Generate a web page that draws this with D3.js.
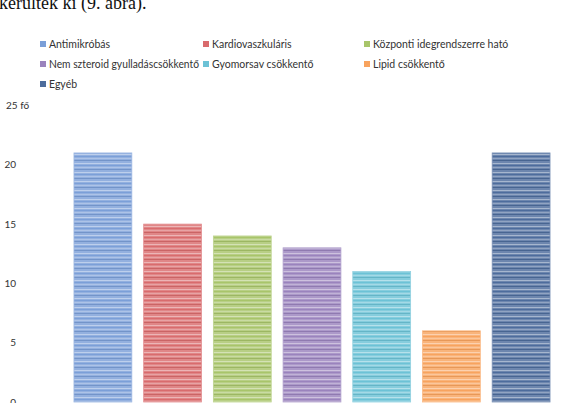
<!DOCTYPE html>
<html><head><meta charset="utf-8">
<script src="https://cdn.jsdelivr.net/npm/d3@7"></script>
<style>body{margin:0;background:#fff;overflow:hidden}svg{display:block}</style>
</head><body><svg id="c" width="567" height="403"></svg>
<script>
const categories = ["Antimikróbás","Kardiovaszkuláris","Központi idegrendszerre ható","Nem szteroid gyulladáscsökkentő","Gyomorsav csökkentő","Lipid csökkentő","Egyéb"];
const values = [21,15,14,13,11,6,21];
const colors = ["#7b9fd8","#d96b6d","#a8c56a","#9a83bd","#6cc2d6","#f8a35e","#4d6c9c"];
const tickValues = [0,5,10,15,20,25];
const unit = "fő";

const svg = d3.select("#c");
const y = d3.scaleLinear().domain([0,25]).range([402,105.5]);
const x = d3.scaleBand().domain(categories).range([67,557]).paddingInner(0.17).paddingOuter(0.1);

// header fragment text
svg.append("text").attr("x",-1).attr("y",9).attr("font-family","'Liberation Serif','Times New Roman',serif")
  .attr("font-size",18).attr("fill","#111").text("kerültek ki (9. ábra).");

// stripe patterns
const defs = svg.append("defs");
categories.forEach((c,i)=>{
  const base = d3.color(colors[i]);
  const light = d3.interpolateRgb(colors[i],"#fff");
  const p = defs.append("pattern").attr("id","p"+i).attr("patternUnits","userSpaceOnUse")
    .attr("width",10).attr("height",9);
  p.append("rect").attr("width",10).attr("height",9).attr("fill",light(0.18));
  p.append("rect").attr("y",1).attr("width",10).attr("height",1).attr("fill",light(0.5));
  p.append("rect").attr("y",3).attr("width",10).attr("height",1).attr("fill",base.formatHex());
  p.append("rect").attr("y",5).attr("width",10).attr("height",1).attr("fill",light(0.38));
  p.append("rect").attr("y",7).attr("width",10).attr("height",1).attr("fill",base.darker(0.2).formatHex());
});

// y axis labels
const ax = svg.append("g").attr("font-family","Lato,'Open Sans',sans-serif").attr("font-size",10).attr("fill","#333");
ax.selectAll("text").data(tickValues).join("text")
  .attr("x",d=> d===25 ? 6 : 16)
  .attr("text-anchor",d=> d===25 ? "start" : "end")
  .attr("y",d=>y(d)).attr("dy","0.35em")
  .text(d=> d===25 ? d+" "+unit : d);

// bars
svg.append("g").selectAll("rect").data(categories).join("rect")
  .attr("x",d=>x(d)).attr("width",x.bandwidth())
  .attr("y",(d,i)=>y(values[i])).attr("height",(d,i)=>y(0)-y(values[i]))
  .attr("fill",(d,i)=>"url(#p"+i+")")
  .attr("stroke",(d,i)=>d3.interpolateRgb(colors[i],"#fff")(0.25)).attr("stroke-width",0.8);

// legend
const legCols = [40,203,364];
const legRows = [44,64,84];
const lg = svg.append("g").attr("font-family","Lato,'Open Sans',sans-serif").attr("font-size",10.5).attr("fill","#333");
categories.forEach((c,i)=>{
  const cx = legCols[i%3], cy = legRows[Math.floor(i/3)];
  lg.append("rect").attr("x",cx).attr("y",cy-3).attr("width",6).attr("height",6).attr("fill",colors[i]);
  const t = lg.append("text").attr("x",cx+9).attr("y",cy).attr("dy","0.35em").text(c);
  const w = t.node().getComputedTextLength();
  if (w > 150) t.attr("textLength",150).attr("lengthAdjust","spacingAndGlyphs");
});
</script></body></html>
